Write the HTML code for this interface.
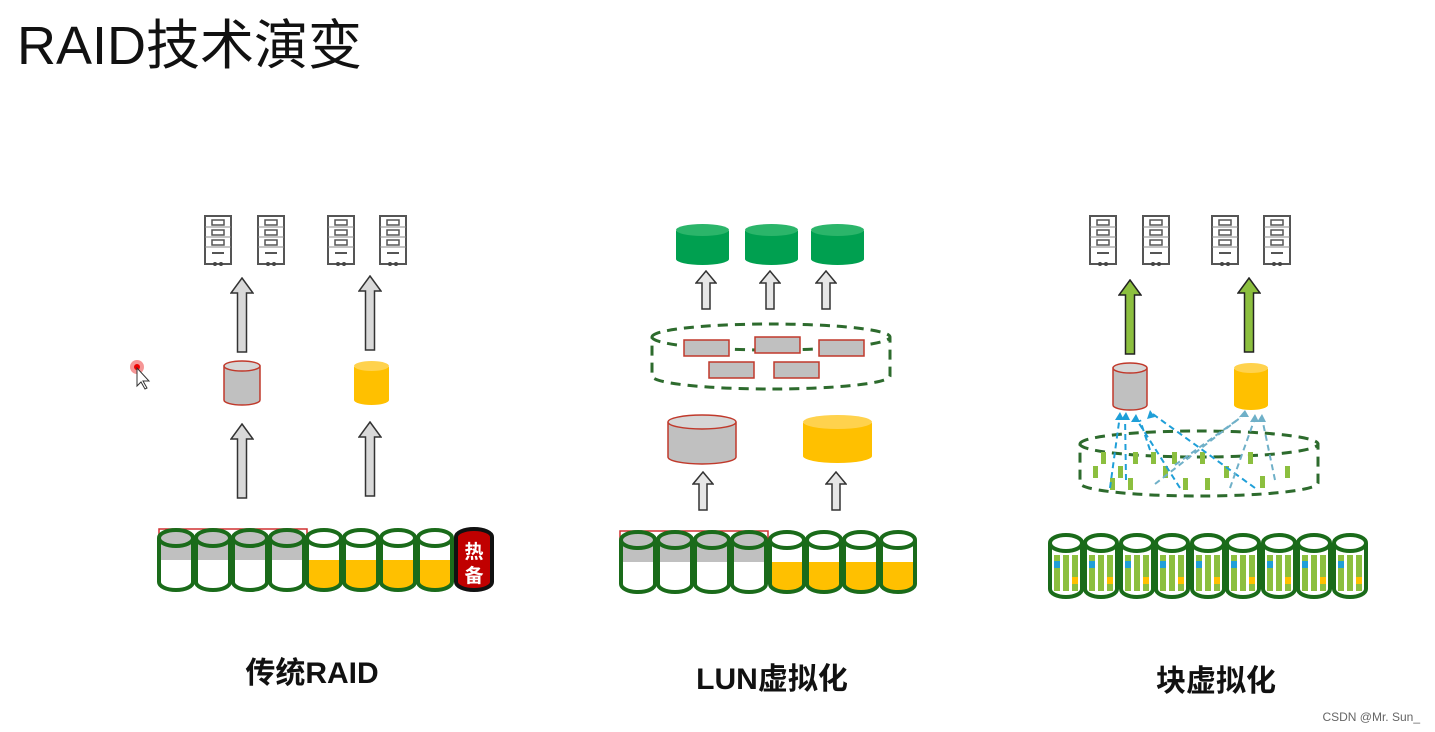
<!DOCTYPE html>
<html><head><meta charset="utf-8"><style>
html,body{margin:0;padding:0;background:#fff;width:1435px;height:732px;overflow:hidden}
svg{display:block}
text{font-family:"Liberation Sans","Noto Sans CJK SC",sans-serif}
</style></head><body>
<svg width="1435" height="732" viewBox="0 0 1435 732" xmlns="http://www.w3.org/2000/svg">
<defs>
<symbol id="srv" viewBox="0 0 28 53" width="28" height="53">
<rect x="1" y="1" width="26" height="48" fill="#fff" stroke="#555" stroke-width="2"/>
<line x1="1" y1="12" x2="27" y2="12" stroke="#888" stroke-width="1"/>
<line x1="1" y1="22" x2="27" y2="22" stroke="#888" stroke-width="1"/>
<line x1="1" y1="32" x2="27" y2="32" stroke="#888" stroke-width="1"/>
<rect x="8" y="5" width="12" height="5" fill="none" stroke="#555" stroke-width="1.5"/>
<rect x="8" y="15" width="12" height="5" fill="none" stroke="#555" stroke-width="1.5"/>
<rect x="8" y="25" width="12" height="5" fill="none" stroke="#555" stroke-width="1.5"/>
<line x1="8" y1="38" x2="20" y2="38" stroke="#555" stroke-width="2"/>
<circle cx="11" cy="49" r="2" fill="#444"/><circle cx="17" cy="49" r="2" fill="#444"/>
</symbol>
<symbol id="garr" viewBox="0 0 24 76" width="24" height="76">
<path d="M12,1 L23,16 H16.5 V75 H7.5 V16 H1 Z" fill="#d9d9d9" stroke="#333" stroke-width="1.5"/>
</symbol>
<symbol id="sarr" viewBox="0 0 22 40" width="22" height="40">
<path d="M11,1 L21,13 H15 V39 H7 V13 H1 Z" fill="#e6e6e6" stroke="#333" stroke-width="1.5"/>
</symbol>
<symbol id="grarr" viewBox="0 0 24 76" width="24" height="76">
<path d="M12,1 L23,16 H16.5 V75 H7.5 V16 H1 Z" fill="#8cbf3f" stroke="#222" stroke-width="1.5"/>
</symbol>
<symbol id="dG" viewBox="0 0 38 64" width="38" height="64">
<path d="M2,10 V54 A17,8 0 0 0 36,54 V10 Z" fill="#fff"/>
<rect x="2" y="10" width="34" height="22" fill="#c0c0c0"/>
<path d="M2,10 V54 A17,8 0 0 0 36,54 V10" fill="none" stroke="#1a6b1a" stroke-width="4"/>
<ellipse cx="19" cy="10" rx="17" ry="8" fill="#c0c0c0" stroke="#1a6b1a" stroke-width="4"/>
</symbol>
<symbol id="dY" viewBox="0 0 38 64" width="38" height="64">
<path d="M2,10 V54 A17,8 0 0 0 36,54 V10 Z" fill="#fff"/>
<path d="M2,32 V54 A17,8 0 0 0 36,54 V32 Z" fill="#ffc000"/>
<path d="M2,10 V54 A17,8 0 0 0 36,54 V10" fill="none" stroke="#1a6b1a" stroke-width="4"/>
<ellipse cx="19" cy="10" rx="17" ry="8" fill="#fff" stroke="#1a6b1a" stroke-width="4"/>
</symbol>
<symbol id="dS" viewBox="0 0 36 66" width="36" height="66">
<path d="M2,10 V56 A16,8 0 0 0 34,56 V10 Z" fill="#fff"/>
<rect x="6" y="22" width="6" height="36" fill="#8cbf3f"/>
<rect x="15" y="22" width="6" height="36" fill="#8cbf3f"/>
<rect x="24" y="22" width="6" height="36" fill="#8cbf3f"/>
<rect x="6" y="28" width="6" height="7" fill="#1f9fd8"/>
<rect x="24" y="44" width="6" height="7" fill="#ffc000"/>
<path d="M2,10 V56 A16,8 0 0 0 34,56 V10" fill="none" stroke="#1a6b1a" stroke-width="4"/>
<ellipse cx="18" cy="10" rx="16" ry="8" fill="#fff" stroke="#1a6b1a" stroke-width="4"/>
</symbol>
</defs>

<text x="17" y="64" font-size="54" fill="#111" textLength="345" lengthAdjust="spacingAndGlyphs">RAID技术演变</text>

<!-- Left panel -->
<use href="#srv" x="204" y="215"/><use href="#srv" x="257" y="215"/>
<use href="#srv" x="327" y="215"/><use href="#srv" x="379" y="215"/>
<use href="#garr" x="230" y="277"/><use href="#garr" x="358" y="275"/>
<path d="M224,367 V400 A18,5 0 0 0 260,400 V367 Z" fill="#c0c0c0" stroke="#c0392b" stroke-width="1.5"/>
<ellipse cx="242" cy="366" rx="18" ry="5" fill="#d6d6d6" stroke="#c0392b" stroke-width="1.5"/>
<path d="M354,367 V400 A17.5,5 0 0 0 389,400 V367 Z" fill="#ffc000"/>
<ellipse cx="371.5" cy="366" rx="17.5" ry="5" fill="#ffd24d"/>
<use href="#garr" x="230" y="423"/><use href="#garr" x="358" y="421"/>
<rect x="159" y="529" width="148" height="27" fill="none" stroke="#d03030" stroke-width="1.5"/>
<use href="#dG" x="157" y="528"/><use href="#dG" x="194" y="528"/><use href="#dG" x="231" y="528"/><use href="#dG" x="268" y="528"/>
<use href="#dY" x="305" y="528"/><use href="#dY" x="342" y="528"/><use href="#dY" x="379" y="528"/><use href="#dY" x="416" y="528"/>
<path d="M456,537 V582 A18,8 0 0 0 492,582 V537 A18,8 0 0 0 456,537 Z" fill="#c00000" stroke="#111" stroke-width="4"/>
<text x="474" y="558" font-size="19" font-weight="bold" fill="#fff" text-anchor="middle">热</text>
<text x="474" y="582" font-size="19" font-weight="bold" fill="#fff" text-anchor="middle">备</text>
<text x="312" y="683" font-size="30" font-weight="bold" fill="#111" text-anchor="middle">传统RAID</text>

<!-- Middle panel -->
<g fill="#00a050">
<path d="M676,231 V259 A26.5,6 0 0 0 729,259 V231 Z"/><ellipse cx="702.5" cy="230" rx="26.5" ry="6" fill="#2bb56a"/>
<path d="M745,231 V259 A26.5,6 0 0 0 798,259 V231 Z"/><ellipse cx="771.5" cy="230" rx="26.5" ry="6" fill="#2bb56a"/>
<path d="M811,231 V259 A26.5,6 0 0 0 864,259 V231 Z"/><ellipse cx="837.5" cy="230" rx="26.5" ry="6" fill="#2bb56a"/>
</g>
<use href="#sarr" x="695" y="270"/><use href="#sarr" x="759" y="270"/><use href="#sarr" x="815" y="270"/>
<path d="M652,337 A119,13 0 0 1 890,337 V376 A119,13 0 0 1 652,376 Z M652,337 A119,13 0 0 0 890,337" fill="none" stroke="#2d6b2d" stroke-width="3" stroke-dasharray="10,7"/>
<g fill="#c0c0c0" stroke="#c0392b" stroke-width="1.5">
<rect x="684" y="340" width="45" height="16"/><rect x="755" y="337" width="45" height="16"/><rect x="819" y="340" width="45" height="16"/>
<rect x="709" y="362" width="45" height="16"/><rect x="774" y="362" width="45" height="16"/>
</g>
<path d="M668,423 V457 A34,7 0 0 0 736,457 V423 Z" fill="#c0c0c0" stroke="#c0392b" stroke-width="1.5"/>
<ellipse cx="702" cy="422" rx="34" ry="7" fill="#d6d6d6" stroke="#c0392b" stroke-width="1.5"/>
<path d="M803,423 V456 A34.5,7 0 0 0 872,456 V423 Z" fill="#ffc000"/>
<ellipse cx="837.5" cy="422" rx="34.5" ry="7" fill="#ffd24d"/>
<use href="#sarr" x="692" y="471"/><use href="#sarr" x="825" y="471"/>
<rect x="620" y="531" width="148" height="27" fill="none" stroke="#d03030" stroke-width="1.5"/>
<use href="#dG" x="619" y="530"/><use href="#dG" x="656" y="530"/><use href="#dG" x="693" y="530"/><use href="#dG" x="730" y="530"/>
<use href="#dY" x="768" y="530"/><use href="#dY" x="805" y="530"/><use href="#dY" x="842" y="530"/><use href="#dY" x="879" y="530"/>
<text x="772" y="689" font-size="30" font-weight="bold" fill="#111" text-anchor="middle">LUN虚拟化</text>

<!-- Right panel -->
<use href="#srv" x="1089" y="215"/><use href="#srv" x="1142" y="215"/>
<use href="#srv" x="1211" y="215"/><use href="#srv" x="1263" y="215"/>
<use href="#grarr" x="1118" y="279"/><use href="#grarr" x="1237" y="277"/>
<path d="M1113,369 V405 A17,5 0 0 0 1147,405 V369 Z" fill="#c0c0c0" stroke="#c0392b" stroke-width="1.5"/>
<ellipse cx="1130" cy="368" rx="17" ry="5" fill="#d6d6d6" stroke="#c0392b" stroke-width="1.5"/>
<path d="M1234,369 V405 A17,5 0 0 0 1268,405 V369 Z" fill="#ffc000"/>
<ellipse cx="1251" cy="368" rx="17" ry="5" fill="#ffd24d"/>
<path d="M1080,444 A119,13 0 0 1 1318,444 V483 A119,13 0 0 1 1080,483 Z M1080,444 A119,13 0 0 0 1318,444" fill="none" stroke="#2d6b2d" stroke-width="3" stroke-dasharray="10,7"/>
<g fill="#8cbf3f">
<rect x="1101" y="452" width="5" height="12"/><rect x="1118" y="466" width="5" height="12"/><rect x="1133" y="452" width="5" height="12"/><rect x="1128" y="478" width="5" height="12"/>
<rect x="1151" y="452" width="5" height="12"/><rect x="1163" y="466" width="5" height="12"/><rect x="1172" y="452" width="5" height="12"/>
<rect x="1200" y="452" width="5" height="12"/><rect x="1205" y="478" width="5" height="12"/><rect x="1224" y="466" width="5" height="12"/>
<rect x="1248" y="452" width="5" height="12"/><rect x="1260" y="476" width="5" height="12"/><rect x="1285" y="466" width="5" height="12"/>
<rect x="1093" y="466" width="5" height="12"/><rect x="1110" y="478" width="5" height="12"/><rect x="1183" y="478" width="5" height="12"/>
</g>
<g stroke="#1f9fd8" stroke-width="2" stroke-dasharray="6,4" fill="none">
<line x1="1110" y1="488" x2="1120" y2="415"/><line x1="1126" y1="480" x2="1125" y2="415"/>
<line x1="1180" y1="488" x2="1135" y2="417"/><line x1="1255" y1="488" x2="1150" y2="412"/>
<line x1="1150" y1="450" x2="1140" y2="420"/>
</g>
<g stroke="#6fb0c8" stroke-width="2" stroke-dasharray="6,4" fill="none">
<line x1="1155" y1="484" x2="1245" y2="414"/><line x1="1230" y1="488" x2="1255" y2="418"/>
<line x1="1275" y1="480" x2="1262" y2="418"/><line x1="1175" y1="465" x2="1240" y2="418"/>
</g>
<g fill="#1f9fd8">
<path d="M1120,412 l-5,8 h9z"/><path d="M1126,412 l-5,8 h9z"/><path d="M1136,414 l-5,8 h9z"/><path d="M1150,410 l-3,9 l8,-2z"/>
</g>
<g fill="#6fb0c8"><path d="M1245,410 l-6,7 h10z"/><path d="M1255,414 l-5,8 h9z"/><path d="M1262,414 l-5,8 h9z"/></g>
<use href="#dS" x="1048" y="533"/><use href="#dS" x="1083" y="533"/><use href="#dS" x="1119" y="533"/>
<use href="#dS" x="1154" y="533"/><use href="#dS" x="1190" y="533"/><use href="#dS" x="1225" y="533"/>
<use href="#dS" x="1261" y="533"/><use href="#dS" x="1296" y="533"/><use href="#dS" x="1332" y="533"/>
<text x="1216" y="691" font-size="30" font-weight="bold" fill="#111" text-anchor="middle">块虚拟化</text>

<circle cx="137" cy="367" r="7" fill="#f05050" opacity="0.6"/><circle cx="137" cy="367" r="3" fill="#e00"/>
<path d="M137,368 V386 L141,382 L145,389 L147,388 L143,381 L149,381 Z" fill="#fff" stroke="#333" stroke-width="1"/>
<text x="1420" y="721" font-size="12" fill="#666" text-anchor="end">CSDN @Mr. Sun_</text>
</svg>
</body></html>
